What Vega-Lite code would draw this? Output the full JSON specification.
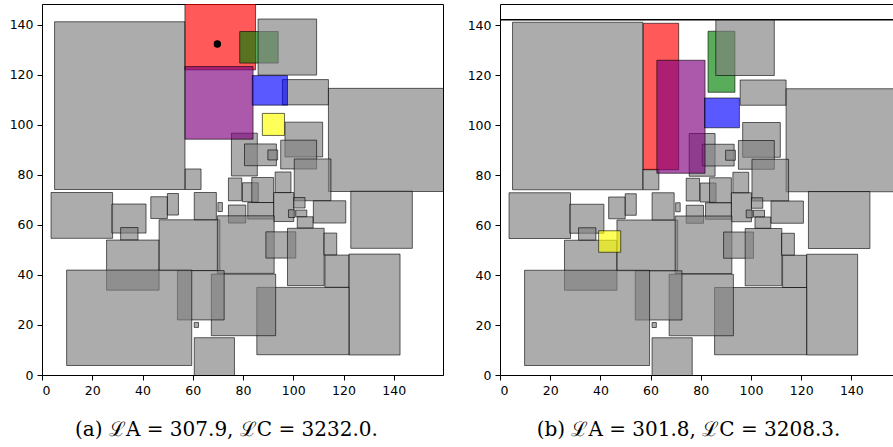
{
  "$schema": "https://vega.github.io/schema/vega-lite/v6.json",
  "padding": {"left": 8, "top": 3, "right": 0, "bottom": 0},
  "spacing": 23,
  "config": {
    "view": {"stroke": "black", "strokeWidth": 1},
    "axis": {"grid": false, "domain": true, "domainColor": "black", "domainWidth": 1, "ticks": true, "tickColor": "black", "tickSize": 5, "tickWidth": 1, "labelFont": "DejaVu Sans", "labelFontSize": 12.5, "labelColor": "black", "labelPadding": 4},
    "title": {"font": "DejaVu Serif", "fontSize": 20, "fontWeight": "normal", "color": "black", "orient": "bottom", "anchor": "middle", "offset": 23}
  },
  "datasets": {
    "gray": [
      {"x": 5.0, "x2": 56.9, "y": 74.1, "y2": 141.1, "top": false},
      {"x": 86.0, "x2": 109.3, "y": 119.8, "y2": 142.2, "top": true},
      {"x": 95.7, "x2": 114.0, "y": 107.9, "y2": 118.0, "top": false},
      {"x": 114.0, "x2": 162, "y": 73.3, "y2": 114.5, "top": false},
      {"x": 96.7, "x2": 111.7, "y": 87.1, "y2": 101.0, "top": false},
      {"x": 75.4, "x2": 85.7, "y": 79.5, "y2": 96.6, "top": false},
      {"x": 80.6, "x2": 93.3, "y": 83.6, "y2": 92.3, "top": false},
      {"x": 89.9, "x2": 93.8, "y": 85.9, "y2": 89.9, "top": false},
      {"x": 95.0, "x2": 109.3, "y": 82.3, "y2": 93.8, "top": false},
      {"x": 100.4, "x2": 115.0, "y": 69.6, "y2": 86.3, "top": false},
      {"x": 57.0, "x2": 63.3, "y": 74.1, "y2": 82.3, "top": false},
      {"x": 74.2, "x2": 79.5, "y": 69.6, "y2": 78.7, "top": false},
      {"x": 79.8, "x2": 86.1, "y": 69.2, "y2": 76.8, "top": false},
      {"x": 83.5, "x2": 92.2, "y": 68.9, "y2": 78.9, "top": false},
      {"x": 92.8, "x2": 99.1, "y": 72.8, "y2": 81.1, "top": false},
      {"x": 92.2, "x2": 100.2, "y": 61.3, "y2": 72.9, "top": false},
      {"x": 122.9, "x2": 147.4, "y": 50.6, "y2": 73.4, "top": false},
      {"x": 3.6, "x2": 28.1, "y": 54.6, "y2": 72.9, "top": false},
      {"x": 43.3, "x2": 49.9, "y": 62.5, "y2": 71.2, "top": false},
      {"x": 49.9, "x2": 54.3, "y": 63.9, "y2": 72.5, "top": false},
      {"x": 60.6, "x2": 69.4, "y": 61.9, "y2": 72.9, "top": false},
      {"x": 70.0, "x2": 71.8, "y": 65.3, "y2": 68.9, "top": false},
      {"x": 74.2, "x2": 81.1, "y": 60.7, "y2": 67.9, "top": false},
      {"x": 81.9, "x2": 92.2, "y": 62.3, "y2": 68.9, "top": false},
      {"x": 100.2, "x2": 104.7, "y": 66.7, "y2": 70.9, "top": false},
      {"x": 98.1, "x2": 100.7, "y": 62.9, "y2": 66.0, "top": false},
      {"x": 101.0, "x2": 105.4, "y": 63.2, "y2": 65.9, "top": false},
      {"x": 101.6, "x2": 107.9, "y": 58.7, "y2": 63.2, "top": false},
      {"x": 108.0, "x2": 120.9, "y": 60.7, "y2": 69.6, "top": false},
      {"x": 27.8, "x2": 41.4, "y": 56.7, "y2": 68.3, "top": false},
      {"x": 31.3, "x2": 38.2, "y": 53.9, "y2": 58.9, "top": false},
      {"x": 25.7, "x2": 46.6, "y": 33.9, "y2": 53.9, "top": false},
      {"x": 46.6, "x2": 70.8, "y": 41.7, "y2": 62.0, "top": false},
      {"x": 69.8, "x2": 92.4, "y": 40.6, "y2": 63.6, "top": false},
      {"x": 89.1, "x2": 101.0, "y": 46.7, "y2": 57.2, "top": false},
      {"x": 97.7, "x2": 112.3, "y": 35.7, "y2": 58.6, "top": false},
      {"x": 112.2, "x2": 117.3, "y": 47.9, "y2": 56.7, "top": false},
      {"x": 112.6, "x2": 122.2, "y": 35.0, "y2": 47.9, "top": false},
      {"x": 122.2, "x2": 142.5, "y": 8.0, "y2": 48.3, "top": false},
      {"x": 85.5, "x2": 122.2, "y": 8.1, "y2": 35.0, "top": false},
      {"x": 67.4, "x2": 93.0, "y": 15.7, "y2": 40.3, "top": false},
      {"x": 53.9, "x2": 72.5, "y": 22.0, "y2": 41.7, "top": false},
      {"x": 9.8, "x2": 59.6, "y": 3.8, "y2": 41.9, "top": false},
      {"x": 60.6, "x2": 62.3, "y": 19.0, "y2": 21.0, "top": false},
      {"x": 60.6, "x2": 76.6, "y": -1.0, "y2": 14.9, "top": false}
    ],
    "colA": [
      {"x": 56.9, "x2": 85.0, "y": 121.9, "y2": 150, "c": "#ff0000", "layer": 1},
      {"x": 56.9, "x2": 84.0, "y": 94.2, "y2": 123.2, "c": "#800080", "layer": 1},
      {"x": 78.7, "x2": 94.0, "y": 124.6, "y2": 137.2, "c": "#008000", "layer": 1},
      {"x": 83.7, "x2": 97.7, "y": 107.8, "y2": 119.6, "c": "#0000ff", "layer": 2},
      {"x": 87.7, "x2": 96.5, "y": 95.7, "y2": 104.5, "c": "#ffff00", "layer": 2}
    ],
    "colB": [
      {"x": 57.1, "x2": 71.2, "y": 82.1, "y2": 140.7, "c": "#ff0000", "layer": 1},
      {"x": 62.5, "x2": 81.7, "y": 80.7, "y2": 125.9, "c": "#800080", "layer": 1},
      {"x": 82.9, "x2": 93.6, "y": 113.1, "y2": 137.5, "c": "#008000", "layer": 1},
      {"x": 81.5, "x2": 95.4, "y": 98.9, "y2": 110.8, "c": "#0000ff", "layer": 2},
      {"x": 39.3, "x2": 48.1, "y": 49.1, "y2": 57.7, "c": "#ffff00", "layer": 2}
    ],
    "dotA": [{"x": 69.8, "y": 132.2}],
    "lineB": [{"y": 142.1}]
  },
  "hconcat": [
    {
      "width": 401,
      "height": 371,
      "title": {"text": "(a) ℒA = 307.9, ℒC = 3232.0.", "dx": -16},
      "layer": [
        {
          "data": {"name": "gray"},
          "transform": [{"filter": "!datum.top"}],
          "mark": {"type": "rect", "fill": "#808080", "fillOpacity": 0.65, "stroke": "black", "strokeOpacity": 0.6, "strokeWidth": 1, "clip": true},
          "encoding": {
            "x": {"field": "x", "type": "quantitative", "scale": {"domain": [0, 159.6], "nice": false, "zero": false}, "axis": {"values": [0, 20, 40, 60, 80, 100, 120, 140], "title": null}},
            "x2": {"field": "x2"},
            "y": {"field": "y", "type": "quantitative", "scale": {"domain": [0, 148.2], "nice": false, "zero": false}, "axis": {"values": [0, 20, 40, 60, 80, 100, 120, 140], "title": null}},
            "y2": {"field": "y2"}
          }
        },
        {
          "data": {"name": "colA"},
          "transform": [{"filter": "datum.layer == 1"}],
          "mark": {"type": "rect", "fillOpacity": 0.65, "stroke": "black", "strokeOpacity": 0.6, "strokeWidth": 1, "clip": true},
          "encoding": {
            "x": {"field": "x", "type": "quantitative"},
            "x2": {"field": "x2"},
            "y": {"field": "y", "type": "quantitative"},
            "y2": {"field": "y2"},
            "fill": {"field": "c", "type": "nominal", "scale": null}
          }
        },
        {
          "data": {"name": "gray"},
          "transform": [{"filter": "datum.top"}],
          "mark": {"type": "rect", "fill": "#808080", "fillOpacity": 0.65, "stroke": "black", "strokeOpacity": 0.6, "strokeWidth": 1, "clip": true},
          "encoding": {
            "x": {"field": "x", "type": "quantitative"},
            "x2": {"field": "x2"},
            "y": {"field": "y", "type": "quantitative"},
            "y2": {"field": "y2"}
          }
        },
        {
          "data": {"name": "colA"},
          "transform": [{"filter": "datum.layer == 2"}],
          "mark": {"type": "rect", "fillOpacity": 0.65, "stroke": "black", "strokeOpacity": 0.6, "strokeWidth": 1, "clip": true},
          "encoding": {
            "x": {"field": "x", "type": "quantitative"},
            "x2": {"field": "x2"},
            "y": {"field": "y", "type": "quantitative"},
            "y2": {"field": "y2"},
            "fill": {"field": "c", "type": "nominal", "scale": null}
          }
        },
        {
          "data": {"name": "dotA"},
          "mark": {"type": "point", "filled": true, "color": "black", "opacity": 1, "size": 55},
          "encoding": {
            "x": {"field": "x", "type": "quantitative"},
            "y": {"field": "y", "type": "quantitative"}
          }
        }
      ]
    },
    {
      "width": 393,
      "height": 371,
      "view": {"stroke": null},
      "title": {"text": "(b) ℒA = 301.8, ℒC = 3208.3.", "dx": -8},
      "resolve": {"axis": {"x": "independent"}},
      "layer": [
        {
          "data": {"name": "gray"},
          "transform": [{"filter": "!datum.top"}],
          "mark": {"type": "rect", "fill": "#808080", "fillOpacity": 0.65, "stroke": "black", "strokeOpacity": 0.6, "strokeWidth": 1, "clip": true},
          "encoding": {
            "x": {"field": "x", "type": "quantitative", "scale": {"domain": [0, 156.6], "nice": false, "zero": false}, "axis": {"values": [0, 20, 40, 60, 80, 100, 120, 140], "title": null}},
            "x2": {"field": "x2"},
            "y": {"field": "y", "type": "quantitative", "scale": {"domain": [0, 148.4], "nice": false, "zero": false}, "axis": {"values": [0, 20, 40, 60, 80, 100, 120, 140], "title": null}},
            "y2": {"field": "y2"}
          }
        },
        {
          "data": {"name": "colB"},
          "transform": [{"filter": "datum.layer == 1"}],
          "mark": {"type": "rect", "fillOpacity": 0.65, "stroke": "black", "strokeOpacity": 0.6, "strokeWidth": 1, "clip": true},
          "encoding": {
            "x": {"field": "x", "type": "quantitative", "axis": {"orient": "top", "labels": false, "ticks": false, "domain": true, "title": null}},
            "x2": {"field": "x2"},
            "y": {"field": "y", "type": "quantitative"},
            "y2": {"field": "y2"},
            "fill": {"field": "c", "type": "nominal", "scale": null}
          }
        },
        {
          "data": {"name": "gray"},
          "transform": [{"filter": "datum.top"}],
          "mark": {"type": "rect", "fill": "#808080", "fillOpacity": 0.65, "stroke": "black", "strokeOpacity": 0.6, "strokeWidth": 1, "clip": true},
          "encoding": {
            "x": {"field": "x", "type": "quantitative", "axis": null},
            "x2": {"field": "x2"},
            "y": {"field": "y", "type": "quantitative"},
            "y2": {"field": "y2"}
          }
        },
        {
          "data": {"name": "colB"},
          "transform": [{"filter": "datum.layer == 2"}],
          "mark": {"type": "rect", "fillOpacity": 0.65, "stroke": "black", "strokeOpacity": 0.6, "strokeWidth": 1, "clip": true},
          "encoding": {
            "x": {"field": "x", "type": "quantitative", "axis": null},
            "x2": {"field": "x2"},
            "y": {"field": "y", "type": "quantitative"},
            "y2": {"field": "y2"},
            "fill": {"field": "c", "type": "nominal", "scale": null}
          }
        },
        {
          "data": {"name": "lineB"},
          "mark": {"type": "rule", "color": "black", "strokeWidth": 1.5},
          "encoding": {
            "y": {"field": "y", "type": "quantitative"}
          }
        }
      ]
    }
  ]
}
